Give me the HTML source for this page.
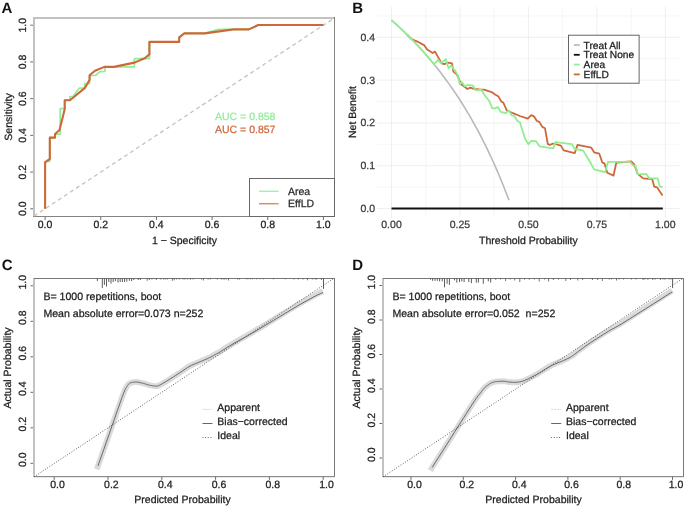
<!DOCTYPE html>
<html><head><meta charset="utf-8"><title>Figure</title>
<style>
html,body{margin:0;padding:0;background:#fff;}
body{width:685px;height:507px;overflow:hidden;}
svg{display:block;font-family:"Liberation Sans", sans-serif;text-rendering:geometricPrecision;will-change:transform;}
</style></head>
<body>
<svg width="685" height="507" viewBox="0 0 685 507">
<rect width="685" height="507" fill="#fff"/>
<text x="1.60" y="13.00" font-size="15" text-anchor="start" fill="#111" font-weight="bold">A</text>
<rect x="33" y="17" width="2" height="200" fill="#c4c2bf"/>
<rect x="33" y="17" width="302" height="2" fill="#c4c2bf"/>
<rect x="334" y="17" width="1" height="200" fill="#858380"/>
<rect x="33" y="216" width="302" height="1" fill="#858380"/>
<line x1="45.10" y1="217.00" x2="45.10" y2="220.00" stroke="#6a6866" stroke-width="1"/>
<line x1="30.30" y1="208.80" x2="33.00" y2="208.80" stroke="#6a6866" stroke-width="1"/>
<text x="45.10" y="227.60" font-size="10.5" text-anchor="middle" fill="#1c1c1c" stroke="#1c1c1c" stroke-width="0.25">0.0</text>
<text x="26.40" y="208.80" font-size="10.5" text-anchor="middle" fill="#1c1c1c" transform="rotate(-90 26.40 208.80)" stroke="#1c1c1c" stroke-width="0.25">0.0</text>
<line x1="100.76" y1="217.00" x2="100.76" y2="220.00" stroke="#6a6866" stroke-width="1"/>
<line x1="30.30" y1="172.08" x2="33.00" y2="172.08" stroke="#6a6866" stroke-width="1"/>
<text x="100.76" y="227.60" font-size="10.5" text-anchor="middle" fill="#1c1c1c" stroke="#1c1c1c" stroke-width="0.25">0.2</text>
<text x="26.40" y="172.08" font-size="10.5" text-anchor="middle" fill="#1c1c1c" transform="rotate(-90 26.40 172.08)" stroke="#1c1c1c" stroke-width="0.25">0.2</text>
<line x1="156.42" y1="217.00" x2="156.42" y2="220.00" stroke="#6a6866" stroke-width="1"/>
<line x1="30.30" y1="135.36" x2="33.00" y2="135.36" stroke="#6a6866" stroke-width="1"/>
<text x="156.42" y="227.60" font-size="10.5" text-anchor="middle" fill="#1c1c1c" stroke="#1c1c1c" stroke-width="0.25">0.4</text>
<text x="26.40" y="135.36" font-size="10.5" text-anchor="middle" fill="#1c1c1c" transform="rotate(-90 26.40 135.36)" stroke="#1c1c1c" stroke-width="0.25">0.4</text>
<line x1="212.08" y1="217.00" x2="212.08" y2="220.00" stroke="#6a6866" stroke-width="1"/>
<line x1="30.30" y1="98.64" x2="33.00" y2="98.64" stroke="#6a6866" stroke-width="1"/>
<text x="212.08" y="227.60" font-size="10.5" text-anchor="middle" fill="#1c1c1c" stroke="#1c1c1c" stroke-width="0.25">0.6</text>
<text x="26.40" y="98.64" font-size="10.5" text-anchor="middle" fill="#1c1c1c" transform="rotate(-90 26.40 98.64)" stroke="#1c1c1c" stroke-width="0.25">0.6</text>
<line x1="267.74" y1="217.00" x2="267.74" y2="220.00" stroke="#6a6866" stroke-width="1"/>
<line x1="30.30" y1="61.92" x2="33.00" y2="61.92" stroke="#6a6866" stroke-width="1"/>
<text x="267.74" y="227.60" font-size="10.5" text-anchor="middle" fill="#1c1c1c" stroke="#1c1c1c" stroke-width="0.25">0.8</text>
<text x="26.40" y="61.92" font-size="10.5" text-anchor="middle" fill="#1c1c1c" transform="rotate(-90 26.40 61.92)" stroke="#1c1c1c" stroke-width="0.25">0.8</text>
<line x1="323.40" y1="217.00" x2="323.40" y2="220.00" stroke="#6a6866" stroke-width="1"/>
<line x1="30.30" y1="25.20" x2="33.00" y2="25.20" stroke="#6a6866" stroke-width="1"/>
<text x="323.40" y="227.60" font-size="10.5" text-anchor="middle" fill="#1c1c1c" stroke="#1c1c1c" stroke-width="0.25">1.0</text>
<text x="26.40" y="25.20" font-size="10.5" text-anchor="middle" fill="#1c1c1c" transform="rotate(-90 26.40 25.20)" stroke="#1c1c1c" stroke-width="0.25">1.0</text>
<text x="184.50" y="243.90" font-size="10.5" text-anchor="middle" fill="#1c1c1c" stroke="#1c1c1c" stroke-width="0.25">1 − Specificity</text>
<text x="11.60" y="117.00" font-size="10.5" text-anchor="middle" fill="#1c1c1c" transform="rotate(-90 11.60 117.00)" stroke="#1c1c1c" stroke-width="0.25">Sensitivity</text>
<line x1="34" y1="216.1" x2="334.5" y2="17.9" stroke="#c2c2c2" stroke-width="1.3" stroke-dasharray="4 3.2"/>
<polyline points="45.10,208.80 45.10,161.50 49.80,161.50 49.80,137.60 55.10,137.60 55.10,134.10 60.20,134.10 60.20,108.60 64.70,108.60 64.70,100.20 69.90,100.20 69.90,96.60 73.00,96.60 79.20,88.20 84.70,88.20 84.70,83.60 89.60,83.60 89.60,75.50 95.50,75.50 100.00,71.60 105.00,71.30 105.00,66.80 134.40,66.80 134.40,58.70 149.40,58.70 149.40,41.90 179.20,41.90 179.20,37.40 184.30,33.40 204.70,33.40 218.50,29.40 248.80,29.40 258.30,25.00 323.40,25.00" fill="none" stroke="#92ec9a" stroke-width="1.7" stroke-linejoin="round" stroke-linecap="butt"/>
<polyline points="45.10,208.80 45.10,162.40 49.80,158.90 49.80,137.60 55.10,137.60 55.10,134.10 59.50,130.00 64.70,109.30 64.70,100.20 69.90,100.20 84.70,88.10 87.10,84.20 89.60,79.70 89.60,75.30 95.00,70.80 104.40,66.90 113.90,66.90 134.40,62.60 144.70,58.20 149.40,54.40 149.40,41.90 179.20,41.90 179.20,37.40 184.30,33.40 204.70,33.40 233.50,29.40 248.80,29.40 258.30,25.00 323.40,25.00" fill="none" stroke="#cd6839" stroke-width="2.1" stroke-linejoin="round" stroke-linecap="butt"/>
<text x="215.00" y="119.50" font-size="10.5" text-anchor="start" fill="#92ec9a" stroke="#92ec9a" stroke-width="0.25">AUC = 0.858</text>
<text x="215.00" y="132.70" font-size="10.5" text-anchor="start" fill="#cd6839" stroke="#cd6839" stroke-width="0.25">AUC = 0.857</text>
<rect x="249.5" y="178.5" width="85" height="38" fill="#fff" stroke="#6a6866" stroke-width="1"/>
<line x1="259.00" y1="191.30" x2="278.60" y2="191.30" stroke="#a6f0ac" stroke-width="1.5"/>
<line x1="259.00" y1="203.70" x2="278.60" y2="203.70" stroke="#dc8e6c" stroke-width="1.5"/>
<text x="288.00" y="195.00" font-size="10.5" text-anchor="start" fill="#2a2a2a" stroke="#2a2a2a" stroke-width="0.25">Area</text>
<text x="288.00" y="207.40" font-size="10.5" text-anchor="start" fill="#2a2a2a" stroke="#2a2a2a" stroke-width="0.25">EffLD</text>
<text x="352.20" y="12.50" font-size="15" text-anchor="start" fill="#111" font-weight="bold">B</text>
<line x1="425.73" y1="6.70" x2="425.73" y2="217.80" stroke="#f4f4f4" stroke-width="0.8"/>
<line x1="494.17" y1="6.70" x2="494.17" y2="217.80" stroke="#f4f4f4" stroke-width="0.8"/>
<line x1="562.62" y1="6.70" x2="562.62" y2="217.80" stroke="#f4f4f4" stroke-width="0.8"/>
<line x1="631.07" y1="6.70" x2="631.07" y2="217.80" stroke="#f4f4f4" stroke-width="0.8"/>
<line x1="377.00" y1="187.10" x2="679.30" y2="187.10" stroke="#f4f4f4" stroke-width="0.8"/>
<line x1="377.00" y1="144.30" x2="679.30" y2="144.30" stroke="#f4f4f4" stroke-width="0.8"/>
<line x1="377.00" y1="101.50" x2="679.30" y2="101.50" stroke="#f4f4f4" stroke-width="0.8"/>
<line x1="377.00" y1="58.70" x2="679.30" y2="58.70" stroke="#f4f4f4" stroke-width="0.8"/>
<line x1="377.00" y1="15.90" x2="679.30" y2="15.90" stroke="#f4f4f4" stroke-width="0.8"/>
<line x1="391.50" y1="6.70" x2="391.50" y2="217.80" stroke="#efefef" stroke-width="1.0"/>
<line x1="459.95" y1="6.70" x2="459.95" y2="217.80" stroke="#efefef" stroke-width="1.0"/>
<line x1="528.40" y1="6.70" x2="528.40" y2="217.80" stroke="#efefef" stroke-width="1.0"/>
<line x1="596.85" y1="6.70" x2="596.85" y2="217.80" stroke="#efefef" stroke-width="1.0"/>
<line x1="665.30" y1="6.70" x2="665.30" y2="217.80" stroke="#efefef" stroke-width="1.0"/>
<line x1="377.00" y1="208.50" x2="679.30" y2="208.50" stroke="#efefef" stroke-width="1.0"/>
<line x1="377.00" y1="165.70" x2="679.30" y2="165.70" stroke="#efefef" stroke-width="1.0"/>
<line x1="377.00" y1="122.90" x2="679.30" y2="122.90" stroke="#efefef" stroke-width="1.0"/>
<line x1="377.00" y1="80.10" x2="679.30" y2="80.10" stroke="#efefef" stroke-width="1.0"/>
<line x1="377.00" y1="37.30" x2="679.30" y2="37.30" stroke="#efefef" stroke-width="1.0"/>
<text x="391.50" y="228.00" font-size="10.5" text-anchor="middle" fill="#3a3a3a" stroke="#3a3a3a" stroke-width="0.25">0.00</text>
<text x="459.95" y="228.00" font-size="10.5" text-anchor="middle" fill="#3a3a3a" stroke="#3a3a3a" stroke-width="0.25">0.25</text>
<text x="528.40" y="228.00" font-size="10.5" text-anchor="middle" fill="#3a3a3a" stroke="#3a3a3a" stroke-width="0.25">0.50</text>
<text x="596.85" y="228.00" font-size="10.5" text-anchor="middle" fill="#3a3a3a" stroke="#3a3a3a" stroke-width="0.25">0.75</text>
<text x="665.30" y="228.00" font-size="10.5" text-anchor="middle" fill="#3a3a3a" stroke="#3a3a3a" stroke-width="0.25">1.00</text>
<text x="375.00" y="212.00" font-size="10.5" text-anchor="end" fill="#3a3a3a" stroke="#3a3a3a" stroke-width="0.25">0.0</text>
<text x="375.00" y="169.20" font-size="10.5" text-anchor="end" fill="#3a3a3a" stroke="#3a3a3a" stroke-width="0.25">0.1</text>
<text x="375.00" y="126.40" font-size="10.5" text-anchor="end" fill="#3a3a3a" stroke="#3a3a3a" stroke-width="0.25">0.2</text>
<text x="375.00" y="83.60" font-size="10.5" text-anchor="end" fill="#3a3a3a" stroke="#3a3a3a" stroke-width="0.25">0.3</text>
<text x="375.00" y="40.80" font-size="10.5" text-anchor="end" fill="#3a3a3a" stroke="#3a3a3a" stroke-width="0.25">0.4</text>
<text x="528.40" y="244.30" font-size="10.5" text-anchor="middle" fill="#1c1c1c" stroke="#1c1c1c" stroke-width="0.25">Threshold Probability</text>
<text x="356.40" y="112.00" font-size="10.5" text-anchor="middle" fill="#1c1c1c" transform="rotate(-90 356.40 112.00)" stroke="#1c1c1c" stroke-width="0.25">Net Benefit</text>
<polyline points="391.50,20.18 393.46,21.91 395.42,23.66 397.37,25.43 399.33,27.24 401.29,29.07 403.25,30.92 405.20,32.81 407.16,34.72 409.12,36.66 411.08,38.64 413.03,40.64 414.99,42.67 416.95,44.74 418.91,46.84 420.87,48.97 422.82,51.14 424.78,53.34 426.74,55.58 428.70,57.86 430.65,60.17 432.61,62.53 434.57,64.92 436.53,67.35 438.48,69.83 440.44,72.35 442.40,74.91 444.36,77.52 446.31,80.17 448.27,82.88 450.23,85.63 452.19,88.43 454.15,91.29 456.10,94.20 458.06,97.16 460.02,100.18 461.98,103.26 463.93,106.40 465.89,109.60 467.85,112.86 469.81,116.19 471.76,119.58 473.72,123.05 475.68,126.58 477.64,130.19 479.60,133.88 481.55,137.64 483.51,141.49 485.47,145.42 487.43,149.44 489.38,153.54 491.34,157.74 493.30,162.03 495.26,166.43 497.21,170.92 499.17,175.52 501.13,180.23 503.09,185.06 505.04,190.00 507.00,195.06 508.96,200.25" fill="none" stroke="#b9b9b9" stroke-width="1.6" stroke-linejoin="round" stroke-linecap="butt"/>
<line x1="391.50" y1="208.50" x2="662.80" y2="208.50" stroke="#111" stroke-width="2.0"/>
<polyline points="406.81,34.38 407.54,35.10 408.27,35.82 409.00,36.55 411.30,39.00 416.80,41.30 424.40,45.40 427.10,49.50 432.70,53.00 435.00,51.60 441.60,63.40 444.40,64.10 447.90,62.70 452.00,63.40 453.40,71.60 456.80,74.40 458.50,78.00 461.20,84.20 467.40,89.00 470.20,87.60 474.30,89.00 481.30,89.70 484.00,89.70 491.60,92.10 495.10,94.50 498.50,96.60 501.30,101.50 503.40,102.80 506.80,110.40 513.00,113.20 519.90,116.00 527.80,118.70 531.20,115.20 534.00,116.30 536.70,120.70 539.50,122.10 542.30,126.90 545.00,128.30 547.80,144.20 549.90,144.90 553.30,143.50 560.90,145.60 563.70,150.40 574.70,153.20 577.50,144.90 591.30,147.70 594.10,152.30 599.30,153.70 602.40,162.70 604.50,163.40 607.30,172.80 613.50,175.60 616.30,162.50 631.50,161.50 634.20,164.30 637.70,173.90 643.20,178.40 652.20,179.00 654.20,186.60 657.00,187.30 662.50,195.60" fill="none" stroke="#cd6839" stroke-width="1.8" stroke-linejoin="round" stroke-linecap="butt"/>
<polyline points="391.50,20.18 393.27,21.74 395.04,23.32 396.81,24.92 398.58,26.55 400.35,28.19 402.12,29.86 403.90,31.55 405.67,33.26 407.44,34.99 409.21,36.75 410.98,38.54 412.75,40.35 414.52,42.18 416.29,44.04 418.06,45.93 419.83,47.85 421.60,49.79 423.38,51.76 425.15,53.76 426.92,55.79 428.69,57.85 430.46,59.94 432.23,62.06 434.00,64.22 438.20,59.90 441.00,63.40 445.80,59.20 448.60,68.20 451.30,65.40 454.10,69.60 455.00,70.40 457.80,75.20 459.80,84.20 461.90,82.10 464.70,86.30 468.10,84.90 473.00,85.60 475.70,90.40 481.30,89.70 484.70,95.20 489.50,101.50 492.30,108.40 495.10,108.40 497.80,107.00 500.60,111.80 505.40,113.20 508.90,110.40 511.60,115.30 514.40,116.00 517.20,120.80 519.90,122.20 522.00,129.10 525.00,138.70 528.50,144.20 531.20,140.80 536.10,141.20 539.50,146.30 553.30,148.40 555.40,142.10 572.00,144.20 574.70,149.00 583.00,150.40 590.00,161.80 594.10,169.40 605.20,172.10 608.00,161.80 630.10,161.80 632.80,165.20 635.60,166.20 637.70,174.20 646.60,174.20 649.40,178.40 657.70,178.40 659.80,186.60 662.50,187.10" fill="none" stroke="#90ee90" stroke-width="1.8" stroke-linejoin="round" stroke-linecap="butt"/>
<rect x="568.5" y="35.2" width="70.6" height="48" fill="#fff" stroke="#555" stroke-width="0.9"/>
<line x1="573.80" y1="45.00" x2="579.70" y2="45.00" stroke="#bdbdbd" stroke-width="1.8"/>
<text x="583.60" y="48.50" font-size="10.2" text-anchor="start" fill="#1a1a1a" stroke="#1a1a1a" stroke-width="0.25">Treat All</text>
<line x1="573.80" y1="54.80" x2="579.70" y2="54.80" stroke="#111" stroke-width="1.8"/>
<text x="583.60" y="58.30" font-size="10.2" text-anchor="start" fill="#1a1a1a" stroke="#1a1a1a" stroke-width="0.25">Treat None</text>
<line x1="573.80" y1="64.60" x2="579.70" y2="64.60" stroke="#90ee90" stroke-width="1.8"/>
<text x="583.60" y="68.10" font-size="10.2" text-anchor="start" fill="#1a1a1a" stroke="#1a1a1a" stroke-width="0.25">Area</text>
<line x1="573.80" y1="74.40" x2="579.70" y2="74.40" stroke="#cd6839" stroke-width="1.8"/>
<text x="583.60" y="77.90" font-size="10.2" text-anchor="start" fill="#1a1a1a" stroke="#1a1a1a" stroke-width="0.25">EffLD</text>
<text x="1.80" y="270.10" font-size="15" text-anchor="start" fill="#111" font-weight="bold">C</text>
<rect x="33.0" y="278.0" width="2" height="199.0" fill="#c4c2bf"/>
<rect x="34.0" y="278.0" width="301.0" height="1" fill="#7a7876"/>
<rect x="334.0" y="278.0" width="1" height="199.0" fill="#7a7876"/>
<rect x="34.0" y="476.0" width="301.0" height="1.2" fill="#8d8b88"/>
<line x1="54.20" y1="477.00" x2="54.20" y2="479.80" stroke="#6a6866" stroke-width="1"/>
<line x1="30.50" y1="463.30" x2="33.00" y2="463.30" stroke="#6a6866" stroke-width="1"/>
<text x="57.60" y="488.20" font-size="10.5" text-anchor="middle" fill="#1c1c1c" stroke="#1c1c1c" stroke-width="0.25">0.0</text>
<text x="26.20" y="459.80" font-size="10.5" text-anchor="middle" fill="#1c1c1c" transform="rotate(-90 26.20 459.80)" stroke="#1c1c1c" stroke-width="0.25">0.0</text>
<line x1="108.00" y1="477.00" x2="108.00" y2="479.80" stroke="#6a6866" stroke-width="1"/>
<line x1="30.50" y1="427.80" x2="33.00" y2="427.80" stroke="#6a6866" stroke-width="1"/>
<text x="111.40" y="488.20" font-size="10.5" text-anchor="middle" fill="#1c1c1c" stroke="#1c1c1c" stroke-width="0.25">0.2</text>
<text x="26.20" y="424.30" font-size="10.5" text-anchor="middle" fill="#1c1c1c" transform="rotate(-90 26.20 424.30)" stroke="#1c1c1c" stroke-width="0.25">0.2</text>
<line x1="161.80" y1="477.00" x2="161.80" y2="479.80" stroke="#6a6866" stroke-width="1"/>
<line x1="30.50" y1="392.30" x2="33.00" y2="392.30" stroke="#6a6866" stroke-width="1"/>
<text x="165.20" y="488.20" font-size="10.5" text-anchor="middle" fill="#1c1c1c" stroke="#1c1c1c" stroke-width="0.25">0.4</text>
<text x="26.20" y="388.80" font-size="10.5" text-anchor="middle" fill="#1c1c1c" transform="rotate(-90 26.20 388.80)" stroke="#1c1c1c" stroke-width="0.25">0.4</text>
<line x1="215.60" y1="477.00" x2="215.60" y2="479.80" stroke="#6a6866" stroke-width="1"/>
<line x1="30.50" y1="356.80" x2="33.00" y2="356.80" stroke="#6a6866" stroke-width="1"/>
<text x="219.00" y="488.20" font-size="10.5" text-anchor="middle" fill="#1c1c1c" stroke="#1c1c1c" stroke-width="0.25">0.6</text>
<text x="26.20" y="353.30" font-size="10.5" text-anchor="middle" fill="#1c1c1c" transform="rotate(-90 26.20 353.30)" stroke="#1c1c1c" stroke-width="0.25">0.6</text>
<line x1="269.40" y1="477.00" x2="269.40" y2="479.80" stroke="#6a6866" stroke-width="1"/>
<line x1="30.50" y1="321.30" x2="33.00" y2="321.30" stroke="#6a6866" stroke-width="1"/>
<text x="272.80" y="488.20" font-size="10.5" text-anchor="middle" fill="#1c1c1c" stroke="#1c1c1c" stroke-width="0.25">0.8</text>
<text x="26.20" y="317.80" font-size="10.5" text-anchor="middle" fill="#1c1c1c" transform="rotate(-90 26.20 317.80)" stroke="#1c1c1c" stroke-width="0.25">0.8</text>
<line x1="323.20" y1="477.00" x2="323.20" y2="479.80" stroke="#6a6866" stroke-width="1"/>
<line x1="30.50" y1="285.80" x2="33.00" y2="285.80" stroke="#6a6866" stroke-width="1"/>
<text x="326.60" y="488.20" font-size="10.5" text-anchor="middle" fill="#1c1c1c" stroke="#1c1c1c" stroke-width="0.25">1.0</text>
<text x="26.20" y="282.30" font-size="10.5" text-anchor="middle" fill="#1c1c1c" transform="rotate(-90 26.20 282.30)" stroke="#1c1c1c" stroke-width="0.25">1.0</text>
<text x="182.50" y="503.30" font-size="10.5" text-anchor="middle" fill="#1c1c1c" stroke="#1c1c1c" stroke-width="0.25">Predicted Probability</text>
<text x="11.40" y="368.00" font-size="10.5" text-anchor="middle" fill="#1c1c1c" transform="rotate(-90 11.40 368.00)" stroke="#1c1c1c" stroke-width="0.25">Actual Probability</text>
<line x1="97.40" y1="278.50" x2="97.40" y2="281.00" stroke="#4a4a4a" stroke-width="0.9" stroke-opacity="1.0"/>
<line x1="102.30" y1="278.50" x2="102.30" y2="288.00" stroke="#4a4a4a" stroke-width="0.9" stroke-opacity="1.0"/>
<line x1="104.40" y1="278.50" x2="104.40" y2="284.90" stroke="#4a4a4a" stroke-width="0.9" stroke-opacity="1.0"/>
<line x1="106.50" y1="278.50" x2="106.50" y2="286.60" stroke="#4a4a4a" stroke-width="0.9" stroke-opacity="1.0"/>
<line x1="108.80" y1="278.50" x2="108.80" y2="282.00" stroke="#4a4a4a" stroke-width="0.9" stroke-opacity="1.0"/>
<line x1="111.00" y1="278.50" x2="111.00" y2="283.60" stroke="#4a4a4a" stroke-width="0.9" stroke-opacity="1.0"/>
<line x1="113.20" y1="278.50" x2="113.20" y2="282.00" stroke="#4a4a4a" stroke-width="0.9" stroke-opacity="1.0"/>
<line x1="115.40" y1="278.50" x2="115.40" y2="281.10" stroke="#4a4a4a" stroke-width="0.9" stroke-opacity="1.0"/>
<line x1="118.00" y1="278.50" x2="118.00" y2="282.50" stroke="#4a4a4a" stroke-width="0.9" stroke-opacity="1.0"/>
<line x1="120.20" y1="278.50" x2="120.20" y2="282.00" stroke="#4a4a4a" stroke-width="0.9" stroke-opacity="1.0"/>
<line x1="122.40" y1="278.50" x2="122.40" y2="282.00" stroke="#4a4a4a" stroke-width="0.9" stroke-opacity="1.0"/>
<line x1="124.60" y1="278.50" x2="124.60" y2="282.00" stroke="#4a4a4a" stroke-width="0.9" stroke-opacity="1.0"/>
<line x1="126.80" y1="278.50" x2="126.80" y2="281.50" stroke="#4a4a4a" stroke-width="0.9" stroke-opacity="1.0"/>
<line x1="129.40" y1="278.50" x2="129.40" y2="280.80" stroke="#4a4a4a" stroke-width="0.9" stroke-opacity="1.0"/>
<line x1="131.60" y1="278.50" x2="131.60" y2="281.10" stroke="#4a4a4a" stroke-width="0.9" stroke-opacity="1.0"/>
<line x1="133.80" y1="278.50" x2="133.80" y2="280.00" stroke="#4a4a4a" stroke-width="0.9" stroke-opacity="1.0"/>
<line x1="138.20" y1="278.50" x2="138.20" y2="280.00" stroke="#4a4a4a" stroke-width="0.9" stroke-opacity="1.0"/>
<line x1="140.40" y1="278.50" x2="140.40" y2="280.00" stroke="#4a4a4a" stroke-width="0.9" stroke-opacity="1.0"/>
<line x1="323.50" y1="278.50" x2="323.50" y2="288.90" stroke="#4a4a4a" stroke-width="0.9" stroke-opacity="1.0"/>
<line x1="147.20" y1="278.50" x2="147.20" y2="280.80" stroke="#4a4a4a" stroke-width="0.9" stroke-opacity="0.85"/>
<line x1="149.40" y1="278.50" x2="149.40" y2="280.00" stroke="#4a4a4a" stroke-width="0.9" stroke-opacity="0.85"/>
<line x1="151.90" y1="278.50" x2="151.90" y2="279.50" stroke="#4a4a4a" stroke-width="0.9" stroke-opacity="0.85"/>
<line x1="156.30" y1="278.50" x2="156.30" y2="280.00" stroke="#4a4a4a" stroke-width="0.9" stroke-opacity="0.85"/>
<line x1="160.70" y1="278.50" x2="160.70" y2="279.50" stroke="#4a4a4a" stroke-width="0.9" stroke-opacity="0.85"/>
<line x1="163.60" y1="278.50" x2="163.60" y2="279.50" stroke="#4a4a4a" stroke-width="0.9" stroke-opacity="0.85"/>
<line x1="165.40" y1="278.50" x2="165.40" y2="279.50" stroke="#4a4a4a" stroke-width="0.9" stroke-opacity="0.85"/>
<line x1="167.30" y1="278.50" x2="167.30" y2="279.50" stroke="#4a4a4a" stroke-width="0.9" stroke-opacity="0.85"/>
<line x1="172.40" y1="278.50" x2="172.40" y2="280.80" stroke="#4a4a4a" stroke-width="0.9" stroke-opacity="0.85"/>
<line x1="174.20" y1="278.50" x2="174.20" y2="280.30" stroke="#4a4a4a" stroke-width="0.9" stroke-opacity="0.85"/>
<line x1="176.40" y1="278.50" x2="176.40" y2="279.50" stroke="#4a4a4a" stroke-width="0.9" stroke-opacity="0.85"/>
<line x1="179.30" y1="278.50" x2="179.30" y2="279.50" stroke="#4a4a4a" stroke-width="0.9" stroke-opacity="0.85"/>
<line x1="183.00" y1="278.50" x2="183.00" y2="279.50" stroke="#4a4a4a" stroke-width="0.9" stroke-opacity="0.85"/>
<line x1="184.80" y1="278.50" x2="184.80" y2="279.50" stroke="#4a4a4a" stroke-width="0.9" stroke-opacity="0.85"/>
<line x1="187.30" y1="278.50" x2="187.30" y2="279.50" stroke="#4a4a4a" stroke-width="0.9" stroke-opacity="0.85"/>
<line x1="190.30" y1="278.50" x2="190.30" y2="279.80" stroke="#4a4a4a" stroke-width="0.9" stroke-opacity="0.85"/>
<line x1="193.20" y1="278.50" x2="193.20" y2="279.50" stroke="#4a4a4a" stroke-width="0.9" stroke-opacity="0.85"/>
<line x1="201.60" y1="278.50" x2="201.60" y2="279.50" stroke="#4a4a4a" stroke-width="0.9" stroke-opacity="0.85"/>
<line x1="203.40" y1="278.50" x2="203.40" y2="280.50" stroke="#4a4a4a" stroke-width="0.9" stroke-opacity="0.85"/>
<line x1="208.10" y1="278.50" x2="208.10" y2="279.50" stroke="#4a4a4a" stroke-width="0.9" stroke-opacity="0.85"/>
<line x1="210.30" y1="278.50" x2="210.30" y2="279.50" stroke="#4a4a4a" stroke-width="0.9" stroke-opacity="0.85"/>
<line x1="217.30" y1="278.50" x2="217.30" y2="279.50" stroke="#4a4a4a" stroke-width="0.9" stroke-opacity="0.85"/>
<line x1="221.30" y1="278.50" x2="221.30" y2="279.50" stroke="#4a4a4a" stroke-width="0.9" stroke-opacity="0.85"/>
<line x1="223.10" y1="278.50" x2="223.10" y2="279.50" stroke="#4a4a4a" stroke-width="0.9" stroke-opacity="0.85"/>
<line x1="224.60" y1="278.50" x2="224.60" y2="279.50" stroke="#4a4a4a" stroke-width="0.9" stroke-opacity="0.85"/>
<line x1="226.40" y1="278.50" x2="226.40" y2="279.50" stroke="#4a4a4a" stroke-width="0.9" stroke-opacity="0.85"/>
<line x1="228.60" y1="278.50" x2="228.60" y2="280.50" stroke="#4a4a4a" stroke-width="0.9" stroke-opacity="0.85"/>
<line x1="237.70" y1="278.50" x2="237.70" y2="279.50" stroke="#4a4a4a" stroke-width="0.9" stroke-opacity="0.85"/>
<line x1="239.50" y1="278.50" x2="239.50" y2="279.50" stroke="#4a4a4a" stroke-width="0.9" stroke-opacity="0.85"/>
<line x1="246.50" y1="278.50" x2="246.50" y2="279.30" stroke="#4a4a4a" stroke-width="0.9" stroke-opacity="0.85"/>
<line x1="248.00" y1="278.50" x2="248.00" y2="279.30" stroke="#4a4a4a" stroke-width="0.9" stroke-opacity="0.85"/>
<line x1="250.50" y1="278.50" x2="250.50" y2="279.30" stroke="#4a4a4a" stroke-width="0.9" stroke-opacity="0.85"/>
<line x1="252.70" y1="278.50" x2="252.70" y2="279.30" stroke="#4a4a4a" stroke-width="0.9" stroke-opacity="0.85"/>
<line x1="256.50" y1="278.50" x2="256.50" y2="279.30" stroke="#4a4a4a" stroke-width="0.9" stroke-opacity="0.85"/>
<line x1="260.00" y1="278.50" x2="260.00" y2="279.30" stroke="#4a4a4a" stroke-width="0.9" stroke-opacity="0.85"/>
<line x1="263.20" y1="278.50" x2="263.20" y2="279.30" stroke="#4a4a4a" stroke-width="0.9" stroke-opacity="0.85"/>
<line x1="273.50" y1="278.50" x2="273.50" y2="279.30" stroke="#4a4a4a" stroke-width="0.9" stroke-opacity="0.85"/>
<line x1="285.40" y1="278.50" x2="285.40" y2="279.30" stroke="#4a4a4a" stroke-width="0.9" stroke-opacity="0.85"/>
<line x1="294.00" y1="278.50" x2="294.00" y2="279.50" stroke="#4a4a4a" stroke-width="0.9" stroke-opacity="0.85"/>
<line x1="298.40" y1="278.50" x2="298.40" y2="279.50" stroke="#4a4a4a" stroke-width="0.9" stroke-opacity="0.85"/>
<line x1="303.10" y1="278.50" x2="303.10" y2="279.50" stroke="#4a4a4a" stroke-width="0.9" stroke-opacity="0.85"/>
<line x1="307.50" y1="278.50" x2="307.50" y2="280.30" stroke="#4a4a4a" stroke-width="0.9" stroke-opacity="0.85"/>
<line x1="312.30" y1="278.50" x2="312.30" y2="279.50" stroke="#4a4a4a" stroke-width="0.9" stroke-opacity="0.85"/>
<line x1="315.20" y1="278.50" x2="315.20" y2="279.50" stroke="#4a4a4a" stroke-width="0.9" stroke-opacity="0.85"/>
<line x1="316.60" y1="278.50" x2="316.60" y2="279.50" stroke="#4a4a4a" stroke-width="0.9" stroke-opacity="0.85"/>
<line x1="321.40" y1="278.50" x2="321.40" y2="280.00" stroke="#4a4a4a" stroke-width="0.9" stroke-opacity="0.85"/>
<polyline points="96.80,469.19 98.00,465.80 98.76,463.65 99.81,460.69 101.06,457.17 102.40,453.37 103.75,449.56 105.00,446.00 106.17,442.66 107.34,439.32 108.51,435.97 109.69,432.59 110.89,429.17 112.10,425.70 113.37,422.06 114.70,418.25 116.04,414.39 117.36,410.64 118.59,407.13 119.70,404.00 120.68,401.24 121.57,398.74 122.39,396.49 123.14,394.46 123.84,392.63 124.50,391.00 125.11,389.61 125.64,388.50 126.13,387.59 126.59,386.83 127.04,386.16 127.50,385.50 127.96,384.89 128.40,384.38 128.83,383.96 129.27,383.60 129.72,383.28 130.20,383.00 130.71,382.76 131.25,382.59 131.80,382.46 132.36,382.36 132.93,382.28 133.50,382.20 134.05,382.12 134.57,382.04 135.10,381.98 135.66,381.94 136.29,381.95 137.00,382.00 137.84,382.12 138.80,382.30 139.81,382.51 140.84,382.75 141.82,382.98 142.70,383.20 143.48,383.40 144.20,383.61 144.87,383.81 145.52,384.01 146.16,384.21 146.80,384.40 147.41,384.58 147.98,384.76 148.53,384.93 149.11,385.10 149.75,385.25 150.50,385.40 151.39,385.56 152.39,385.74 153.46,385.91 154.53,386.05 155.57,386.12 156.50,386.10 157.25,386.02 157.85,385.92 158.40,385.75 159.02,385.48 159.81,385.08 160.90,384.50 162.33,383.71 164.02,382.72 165.89,381.59 167.86,380.39 169.82,379.17 171.70,377.99 173.55,376.80 175.45,375.55 177.35,374.29 179.21,373.05 180.97,371.88 182.60,370.80 184.05,369.83 185.34,368.94 186.54,368.11 187.71,367.32 188.91,366.57 190.20,365.84 191.55,365.16 192.91,364.54 194.29,363.95 195.73,363.36 197.22,362.75 198.80,362.07 200.55,361.32 202.47,360.49 204.46,359.64 206.40,358.79 208.18,358.00 209.70,357.29 210.91,356.68 211.89,356.13 212.72,355.63 213.46,355.17 214.20,354.71 215.00,354.25 215.77,353.84 216.44,353.52 217.09,353.21 217.84,352.83 218.78,352.32 220.00,351.61 221.52,350.66 223.24,349.55 225.16,348.29 227.24,346.94 229.47,345.54 231.80,344.12 234.31,342.65 237.03,341.11 239.89,339.51 242.81,337.87 245.74,336.22 248.60,334.58 251.40,332.94 254.20,331.28 257.01,329.61 259.81,327.93 262.61,326.24 265.40,324.55 268.19,322.86 270.97,321.16 273.75,319.45 276.53,317.74 279.31,316.03 282.10,314.32 284.89,312.61 287.69,310.88 290.49,309.15 293.30,307.43 296.10,305.74 298.90,304.09 301.81,302.41 304.85,300.69 307.89,299.00 310.80,297.40 313.45,295.96 315.70,294.76 317.55,293.80 319.11,293.04 320.40,292.45 321.46,291.98 322.32,291.61 323.00,291.30" fill="none" stroke="#dadada" stroke-width="5.8" stroke-linejoin="round" stroke-linecap="butt"/>
<line x1="34.00" y1="476.90" x2="334.40" y2="278.00" stroke="#3a3a3a" stroke-width="0.9" stroke-dasharray="0.9 1.75"/>
<polyline points="98.00,465.80 98.76,463.65 99.81,460.69 101.06,457.17 102.40,453.37 103.75,449.56 105.00,446.00 106.17,442.66 107.34,439.32 108.51,435.97 109.69,432.59 110.89,429.17 112.10,425.70 113.37,422.06 114.70,418.25 116.04,414.39 117.36,410.64 118.59,407.13 119.70,404.00 120.68,401.24 121.57,398.74 122.39,396.49 123.14,394.46 123.84,392.63 124.50,391.00 125.11,389.61 125.64,388.50 126.13,387.59 126.59,386.83 127.04,386.16 127.50,385.50 127.96,384.89 128.40,384.38 128.83,383.96 129.27,383.60 129.72,383.28 130.20,383.00 130.71,382.76 131.25,382.59 131.80,382.46 132.36,382.36 132.93,382.28 133.50,382.20 134.05,382.12 134.57,382.04 135.10,381.98 135.66,381.94 136.29,381.95 137.00,382.00 137.84,382.12 138.80,382.30 139.81,382.51 140.84,382.75 141.82,382.98 142.70,383.20 143.48,383.40 144.20,383.61 144.87,383.81 145.52,384.01 146.16,384.21 146.80,384.40 147.41,384.58 147.98,384.76 148.53,384.93 149.11,385.10 149.75,385.25 150.50,385.40 151.39,385.56 152.39,385.74 153.46,385.91 154.53,386.05 155.57,386.12 156.50,386.10 157.25,386.02 157.85,385.92 158.40,385.75 159.02,385.48 159.81,385.08 160.90,384.50 162.33,383.71 164.02,382.72 165.89,381.59 167.86,380.39 169.82,379.17 171.70,378.00 173.55,376.83 175.45,375.60 177.35,374.35 179.21,373.13 180.97,371.96 182.60,370.90 184.05,369.94 185.34,369.06 186.54,368.24 187.71,367.46 188.91,366.72 190.20,366.00 191.55,365.33 192.91,364.71 194.29,364.14 195.73,363.56 197.22,362.96 198.80,362.30 200.55,361.55 202.47,360.74 204.46,359.91 206.40,359.08 208.18,358.30 209.70,357.60 210.91,357.00 211.89,356.46 212.72,355.97 213.46,355.51 214.20,355.06 215.00,354.60 215.77,354.20 216.44,353.88 217.09,353.58 217.84,353.21 218.78,352.71 220.00,352.00 221.52,351.07 223.24,349.96 225.16,348.73 227.24,347.39 229.47,346.00 231.80,344.60 234.31,343.15 237.03,341.63 239.89,340.06 242.81,338.44 245.74,336.82 248.60,335.20 251.40,333.58 254.20,331.94 257.01,330.29 259.81,328.63 262.61,326.97 265.40,325.30 268.19,323.63 270.97,321.95 273.75,320.26 276.53,318.57 279.31,316.89 282.10,315.20 284.89,313.51 287.69,311.80 290.49,310.09 293.30,308.40 296.10,306.73 298.90,305.10 301.81,303.45 304.85,301.75 307.89,300.08 310.80,298.50 313.45,297.09 315.70,295.90 317.55,294.96 319.11,294.21 320.40,293.62 321.46,293.17 322.32,292.80 323.00,292.50" fill="none" stroke="#4a4a4a" stroke-width="0.8" stroke-linejoin="round" stroke-linecap="butt"/>
<text x="43.40" y="299.80" font-size="10.58" text-anchor="start" fill="#1c1c1c" stroke="#1c1c1c" stroke-width="0.25" xml:space="preserve">B= 1000 repetitions, boot</text>
<text x="43.40" y="316.90" font-size="10.58" text-anchor="start" fill="#1c1c1c" stroke="#1c1c1c" stroke-width="0.25" xml:space="preserve">Mean absolute error=0.073 n=252</text>
<line x1="202.50" y1="409.40" x2="212.50" y2="409.40" stroke="#d0d0d0" stroke-width="0.9" stroke-dasharray="2 1"/>
<line x1="202.50" y1="423.50" x2="212.50" y2="423.50" stroke="#555" stroke-width="0.9"/>
<line x1="202.50" y1="437.50" x2="212.50" y2="437.50" stroke="#4a4a4a" stroke-width="0.9" stroke-dasharray="0.9 1.75"/>
<text x="217.30" y="411.40" font-size="10.5" text-anchor="start" fill="#1c1c1c" stroke="#1c1c1c" stroke-width="0.25">Apparent</text>
<text x="217.30" y="425.20" font-size="10.5" text-anchor="start" fill="#1c1c1c" stroke="#1c1c1c" stroke-width="0.25">Bias−corrected</text>
<text x="217.30" y="439.20" font-size="10.5" text-anchor="start" fill="#1c1c1c" stroke="#1c1c1c" stroke-width="0.25">Ideal</text>
<text x="352.30" y="270.10" font-size="15" text-anchor="start" fill="#111" font-weight="bold">D</text>
<rect x="382.0" y="278.0" width="2" height="199.0" fill="#c4c2bf"/>
<rect x="383.0" y="278.0" width="301.0" height="1" fill="#7a7876"/>
<rect x="683.0" y="278.0" width="1" height="199.0" fill="#7a7876"/>
<rect x="383.0" y="476.0" width="301.0" height="1.2" fill="#8d8b88"/>
<line x1="411.00" y1="477.00" x2="411.00" y2="479.80" stroke="#6a6866" stroke-width="1"/>
<line x1="379.50" y1="458.00" x2="382.00" y2="458.00" stroke="#6a6866" stroke-width="1"/>
<text x="414.60" y="488.20" font-size="10.5" text-anchor="middle" fill="#1c1c1c" stroke="#1c1c1c" stroke-width="0.25">0.0</text>
<text x="375.20" y="454.60" font-size="10.5" text-anchor="middle" fill="#1c1c1c" transform="rotate(-90 375.20 454.60)" stroke="#1c1c1c" stroke-width="0.25">0.0</text>
<line x1="463.30" y1="477.00" x2="463.30" y2="479.80" stroke="#6a6866" stroke-width="1"/>
<line x1="379.50" y1="423.50" x2="382.00" y2="423.50" stroke="#6a6866" stroke-width="1"/>
<text x="466.90" y="488.20" font-size="10.5" text-anchor="middle" fill="#1c1c1c" stroke="#1c1c1c" stroke-width="0.25">0.2</text>
<text x="375.20" y="420.10" font-size="10.5" text-anchor="middle" fill="#1c1c1c" transform="rotate(-90 375.20 420.10)" stroke="#1c1c1c" stroke-width="0.25">0.2</text>
<line x1="515.60" y1="477.00" x2="515.60" y2="479.80" stroke="#6a6866" stroke-width="1"/>
<line x1="379.50" y1="389.00" x2="382.00" y2="389.00" stroke="#6a6866" stroke-width="1"/>
<text x="519.20" y="488.20" font-size="10.5" text-anchor="middle" fill="#1c1c1c" stroke="#1c1c1c" stroke-width="0.25">0.4</text>
<text x="375.20" y="385.60" font-size="10.5" text-anchor="middle" fill="#1c1c1c" transform="rotate(-90 375.20 385.60)" stroke="#1c1c1c" stroke-width="0.25">0.4</text>
<line x1="567.90" y1="477.00" x2="567.90" y2="479.80" stroke="#6a6866" stroke-width="1"/>
<line x1="379.50" y1="354.50" x2="382.00" y2="354.50" stroke="#6a6866" stroke-width="1"/>
<text x="571.50" y="488.20" font-size="10.5" text-anchor="middle" fill="#1c1c1c" stroke="#1c1c1c" stroke-width="0.25">0.6</text>
<text x="375.20" y="351.10" font-size="10.5" text-anchor="middle" fill="#1c1c1c" transform="rotate(-90 375.20 351.10)" stroke="#1c1c1c" stroke-width="0.25">0.6</text>
<line x1="620.20" y1="477.00" x2="620.20" y2="479.80" stroke="#6a6866" stroke-width="1"/>
<line x1="379.50" y1="320.00" x2="382.00" y2="320.00" stroke="#6a6866" stroke-width="1"/>
<text x="623.80" y="488.20" font-size="10.5" text-anchor="middle" fill="#1c1c1c" stroke="#1c1c1c" stroke-width="0.25">0.8</text>
<text x="375.20" y="316.60" font-size="10.5" text-anchor="middle" fill="#1c1c1c" transform="rotate(-90 375.20 316.60)" stroke="#1c1c1c" stroke-width="0.25">0.8</text>
<line x1="672.50" y1="477.00" x2="672.50" y2="479.80" stroke="#6a6866" stroke-width="1"/>
<line x1="379.50" y1="285.50" x2="382.00" y2="285.50" stroke="#6a6866" stroke-width="1"/>
<text x="676.10" y="488.20" font-size="10.5" text-anchor="middle" fill="#1c1c1c" stroke="#1c1c1c" stroke-width="0.25">1.0</text>
<text x="375.20" y="282.10" font-size="10.5" text-anchor="middle" fill="#1c1c1c" transform="rotate(-90 375.20 282.10)" stroke="#1c1c1c" stroke-width="0.25">1.0</text>
<text x="533.50" y="503.30" font-size="10.5" text-anchor="middle" fill="#1c1c1c" stroke="#1c1c1c" stroke-width="0.25">Predicted Probability</text>
<text x="360.40" y="368.00" font-size="10.5" text-anchor="middle" fill="#1c1c1c" transform="rotate(-90 360.40 368.00)" stroke="#1c1c1c" stroke-width="0.25">Actual Probability</text>
<line x1="430.50" y1="278.50" x2="430.50" y2="279.70" stroke="#4a4a4a" stroke-width="0.9" stroke-opacity="1.0"/>
<line x1="432.60" y1="278.50" x2="432.60" y2="280.80" stroke="#4a4a4a" stroke-width="0.9" stroke-opacity="1.0"/>
<line x1="435.00" y1="278.50" x2="435.00" y2="280.80" stroke="#4a4a4a" stroke-width="0.9" stroke-opacity="1.0"/>
<line x1="437.30" y1="278.50" x2="437.30" y2="280.80" stroke="#4a4a4a" stroke-width="0.9" stroke-opacity="1.0"/>
<line x1="439.60" y1="278.50" x2="439.60" y2="281.40" stroke="#4a4a4a" stroke-width="0.9" stroke-opacity="1.0"/>
<line x1="442.20" y1="278.50" x2="442.20" y2="281.40" stroke="#4a4a4a" stroke-width="0.9" stroke-opacity="1.0"/>
<line x1="444.50" y1="278.50" x2="444.50" y2="287.30" stroke="#4a4a4a" stroke-width="0.9" stroke-opacity="1.0"/>
<line x1="447.10" y1="278.50" x2="447.10" y2="283.80" stroke="#4a4a4a" stroke-width="0.9" stroke-opacity="1.0"/>
<line x1="449.40" y1="278.50" x2="449.40" y2="284.90" stroke="#4a4a4a" stroke-width="0.9" stroke-opacity="1.0"/>
<line x1="454.50" y1="278.50" x2="454.50" y2="280.30" stroke="#4a4a4a" stroke-width="0.9" stroke-opacity="1.0"/>
<line x1="456.80" y1="278.50" x2="456.80" y2="282.60" stroke="#4a4a4a" stroke-width="0.9" stroke-opacity="1.0"/>
<line x1="459.50" y1="278.50" x2="459.50" y2="282.00" stroke="#4a4a4a" stroke-width="0.9" stroke-opacity="1.0"/>
<line x1="461.80" y1="278.50" x2="461.80" y2="281.40" stroke="#4a4a4a" stroke-width="0.9" stroke-opacity="1.0"/>
<line x1="464.10" y1="278.50" x2="464.10" y2="282.00" stroke="#4a4a4a" stroke-width="0.9" stroke-opacity="1.0"/>
<line x1="468.80" y1="278.50" x2="468.80" y2="282.00" stroke="#4a4a4a" stroke-width="0.9" stroke-opacity="1.0"/>
<line x1="471.40" y1="278.50" x2="471.40" y2="283.20" stroke="#4a4a4a" stroke-width="0.9" stroke-opacity="1.0"/>
<line x1="476.30" y1="278.50" x2="476.30" y2="282.60" stroke="#4a4a4a" stroke-width="0.9" stroke-opacity="1.0"/>
<line x1="478.40" y1="278.50" x2="478.40" y2="282.60" stroke="#4a4a4a" stroke-width="0.9" stroke-opacity="1.0"/>
<line x1="483.30" y1="278.50" x2="483.30" y2="283.80" stroke="#4a4a4a" stroke-width="0.9" stroke-opacity="1.0"/>
<line x1="488.30" y1="278.50" x2="488.30" y2="281.40" stroke="#4a4a4a" stroke-width="0.9" stroke-opacity="1.0"/>
<line x1="490.70" y1="278.50" x2="490.70" y2="282.60" stroke="#4a4a4a" stroke-width="0.9" stroke-opacity="1.0"/>
<line x1="495.70" y1="278.50" x2="495.70" y2="279.70" stroke="#4a4a4a" stroke-width="0.9" stroke-opacity="1.0"/>
<line x1="672.60" y1="278.50" x2="672.60" y2="288.10" stroke="#4a4a4a" stroke-width="0.9" stroke-opacity="1.0"/>
<line x1="500.50" y1="278.50" x2="500.50" y2="279.50" stroke="#4a4a4a" stroke-width="0.9" stroke-opacity="0.85"/>
<line x1="505.60" y1="278.50" x2="505.60" y2="281.00" stroke="#4a4a4a" stroke-width="0.9" stroke-opacity="0.85"/>
<line x1="510.30" y1="278.50" x2="510.30" y2="279.50" stroke="#4a4a4a" stroke-width="0.9" stroke-opacity="0.85"/>
<line x1="514.70" y1="278.50" x2="514.70" y2="280.50" stroke="#4a4a4a" stroke-width="0.9" stroke-opacity="0.85"/>
<line x1="519.80" y1="278.50" x2="519.80" y2="282.00" stroke="#4a4a4a" stroke-width="0.9" stroke-opacity="0.85"/>
<line x1="524.60" y1="278.50" x2="524.60" y2="279.70" stroke="#4a4a4a" stroke-width="0.9" stroke-opacity="0.85"/>
<line x1="529.30" y1="278.50" x2="529.30" y2="279.70" stroke="#4a4a4a" stroke-width="0.9" stroke-opacity="0.85"/>
<line x1="534.40" y1="278.50" x2="534.40" y2="279.50" stroke="#4a4a4a" stroke-width="0.9" stroke-opacity="0.85"/>
<line x1="539.20" y1="278.50" x2="539.20" y2="281.50" stroke="#4a4a4a" stroke-width="0.9" stroke-opacity="0.85"/>
<line x1="544.60" y1="278.50" x2="544.60" y2="279.50" stroke="#4a4a4a" stroke-width="0.9" stroke-opacity="0.85"/>
<line x1="548.60" y1="278.50" x2="548.60" y2="281.50" stroke="#4a4a4a" stroke-width="0.9" stroke-opacity="0.85"/>
<line x1="553.40" y1="278.50" x2="553.40" y2="280.00" stroke="#4a4a4a" stroke-width="0.9" stroke-opacity="0.85"/>
<line x1="558.50" y1="278.50" x2="558.50" y2="279.50" stroke="#4a4a4a" stroke-width="0.9" stroke-opacity="0.85"/>
<line x1="565.80" y1="278.50" x2="565.80" y2="281.00" stroke="#4a4a4a" stroke-width="0.9" stroke-opacity="0.85"/>
<line x1="570.50" y1="278.50" x2="570.50" y2="280.00" stroke="#4a4a4a" stroke-width="0.9" stroke-opacity="0.85"/>
<line x1="577.80" y1="278.50" x2="577.80" y2="280.50" stroke="#4a4a4a" stroke-width="0.9" stroke-opacity="0.85"/>
<line x1="582.60" y1="278.50" x2="582.60" y2="280.00" stroke="#4a4a4a" stroke-width="0.9" stroke-opacity="0.85"/>
<line x1="592.40" y1="278.50" x2="592.40" y2="280.00" stroke="#4a4a4a" stroke-width="0.9" stroke-opacity="0.85"/>
<line x1="597.60" y1="278.50" x2="597.60" y2="280.00" stroke="#4a4a4a" stroke-width="0.9" stroke-opacity="0.85"/>
<line x1="602.30" y1="278.50" x2="602.30" y2="281.00" stroke="#4a4a4a" stroke-width="0.9" stroke-opacity="0.85"/>
<line x1="609.20" y1="278.50" x2="609.20" y2="279.50" stroke="#4a4a4a" stroke-width="0.9" stroke-opacity="0.85"/>
<line x1="611.40" y1="278.50" x2="611.40" y2="279.50" stroke="#4a4a4a" stroke-width="0.9" stroke-opacity="0.85"/>
<line x1="616.50" y1="278.50" x2="616.50" y2="280.50" stroke="#4a4a4a" stroke-width="0.9" stroke-opacity="0.85"/>
<line x1="619.10" y1="278.50" x2="619.10" y2="279.50" stroke="#4a4a4a" stroke-width="0.9" stroke-opacity="0.85"/>
<line x1="623.50" y1="278.50" x2="623.50" y2="279.50" stroke="#4a4a4a" stroke-width="0.9" stroke-opacity="0.85"/>
<line x1="631.50" y1="278.50" x2="631.50" y2="279.50" stroke="#4a4a4a" stroke-width="0.9" stroke-opacity="0.85"/>
<line x1="635.90" y1="278.50" x2="635.90" y2="279.50" stroke="#4a4a4a" stroke-width="0.9" stroke-opacity="0.85"/>
<line x1="643.50" y1="278.50" x2="643.50" y2="279.50" stroke="#4a4a4a" stroke-width="0.9" stroke-opacity="0.85"/>
<line x1="642.60" y1="278.50" x2="642.60" y2="279.50" stroke="#4a4a4a" stroke-width="0.9" stroke-opacity="0.85"/>
<line x1="644.90" y1="278.50" x2="644.90" y2="279.50" stroke="#4a4a4a" stroke-width="0.9" stroke-opacity="0.85"/>
<line x1="647.90" y1="278.50" x2="647.90" y2="279.80" stroke="#4a4a4a" stroke-width="0.9" stroke-opacity="0.85"/>
<line x1="652.80" y1="278.50" x2="652.80" y2="280.00" stroke="#4a4a4a" stroke-width="0.9" stroke-opacity="0.85"/>
<line x1="655.10" y1="278.50" x2="655.10" y2="279.50" stroke="#4a4a4a" stroke-width="0.9" stroke-opacity="0.85"/>
<line x1="660.40" y1="278.50" x2="660.40" y2="280.00" stroke="#4a4a4a" stroke-width="0.9" stroke-opacity="0.85"/>
<line x1="663.00" y1="278.50" x2="663.00" y2="279.50" stroke="#4a4a4a" stroke-width="0.9" stroke-opacity="0.85"/>
<line x1="665.00" y1="278.50" x2="665.00" y2="279.80" stroke="#4a4a4a" stroke-width="0.9" stroke-opacity="0.85"/>
<line x1="669.00" y1="278.50" x2="669.00" y2="279.50" stroke="#4a4a4a" stroke-width="0.9" stroke-opacity="0.85"/>
<line x1="671.00" y1="278.50" x2="671.00" y2="279.50" stroke="#4a4a4a" stroke-width="0.9" stroke-opacity="0.85"/>
<polyline points="430.17,470.54 432.10,467.50 433.70,464.99 435.91,461.51 438.54,457.39 441.36,452.96 444.19,448.52 446.80,444.40 449.25,440.52 451.72,436.61 454.19,432.70 456.63,428.82 459.04,425.01 461.40,421.30 463.78,417.56 466.21,413.74 468.60,409.99 470.87,406.46 472.93,403.28 474.70,400.60 476.12,398.52 477.25,396.94 478.18,395.72 478.97,394.71 479.72,393.79 480.50,392.80 481.29,391.78 482.02,390.84 482.70,389.99 483.35,389.20 483.98,388.47 484.60,387.80 485.21,387.20 485.78,386.68 486.34,386.23 486.89,385.81 487.44,385.41 488.00,385.00 488.57,384.59 489.14,384.18 489.71,383.79 490.29,383.43 490.89,383.10 491.50,382.80 492.14,382.54 492.80,382.33 493.47,382.14 494.16,381.97 494.83,381.83 495.50,381.70 496.14,381.59 496.75,381.50 497.36,381.43 497.99,381.38 498.66,381.34 499.40,381.30 500.23,381.27 501.14,381.24 502.10,381.23 503.06,381.23 503.97,381.25 504.80,381.30 505.50,381.38 506.09,381.50 506.64,381.63 507.21,381.77 507.88,381.90 508.70,382.00 509.73,382.08 510.93,382.17 512.23,382.24 513.53,382.29 514.78,382.31 515.90,382.30 516.87,382.25 517.76,382.18 518.58,382.08 519.38,381.95 520.17,381.79 521.00,381.59 521.81,381.37 522.59,381.14 523.36,380.88 524.17,380.58 525.07,380.20 526.10,379.75 527.32,379.18 528.70,378.50 530.16,377.75 531.64,376.99 533.04,376.25 534.30,375.58 535.33,375.03 536.16,374.57 536.93,374.14 537.75,373.66 538.73,373.08 540.00,372.33 541.60,371.34 543.46,370.17 545.48,368.89 547.58,367.58 549.68,366.34 551.70,365.23 553.69,364.26 555.73,363.38 557.77,362.55 559.77,361.76 561.66,360.99 563.40,360.23 564.97,359.50 566.41,358.82 567.74,358.16 569.01,357.50 570.26,356.81 571.50,356.06 572.69,355.27 573.79,354.48 574.85,353.65 575.95,352.77 577.14,351.83 578.50,350.80 580.03,349.66 581.70,348.42 583.46,347.11 585.28,345.76 587.14,344.42 589.00,343.11 590.91,341.81 592.90,340.48 594.92,339.15 596.93,337.84 598.87,336.59 600.70,335.41 602.39,334.32 603.99,333.30 605.51,332.34 607.01,331.40 608.53,330.47 610.10,329.53 611.60,328.66 612.99,327.91 614.39,327.16 615.93,326.32 617.76,325.28 620.00,323.95 622.80,322.22 626.07,320.16 629.62,317.90 633.26,315.58 636.78,313.33 640.00,311.28 642.90,309.43 645.62,307.69 648.24,306.02 650.80,304.38 653.37,302.73 656.00,301.04 658.88,299.19 661.99,297.19 665.10,295.18 667.99,293.31 670.44,291.74 672.20,290.60" fill="none" stroke="#dadada" stroke-width="5.8" stroke-linejoin="round" stroke-linecap="butt"/>
<line x1="383.00" y1="476.90" x2="683.40" y2="278.00" stroke="#3a3a3a" stroke-width="0.9" stroke-dasharray="0.9 1.75"/>
<polyline points="432.10,467.50 433.70,464.99 435.91,461.51 438.54,457.39 441.36,452.96 444.19,448.52 446.80,444.40 449.25,440.52 451.72,436.61 454.19,432.70 456.63,428.82 459.04,425.01 461.40,421.30 463.78,417.56 466.21,413.74 468.60,409.99 470.87,406.46 472.93,403.28 474.70,400.60 476.12,398.52 477.25,396.94 478.18,395.72 478.97,394.71 479.72,393.79 480.50,392.80 481.29,391.78 482.02,390.84 482.70,389.99 483.35,389.20 483.98,388.47 484.60,387.80 485.21,387.20 485.78,386.68 486.34,386.23 486.89,385.81 487.44,385.41 488.00,385.00 488.57,384.59 489.14,384.18 489.71,383.79 490.29,383.43 490.89,383.10 491.50,382.80 492.14,382.54 492.80,382.33 493.47,382.14 494.16,381.97 494.83,381.83 495.50,381.70 496.14,381.59 496.75,381.50 497.36,381.43 497.99,381.38 498.66,381.34 499.40,381.30 500.23,381.27 501.14,381.24 502.10,381.23 503.06,381.23 503.97,381.25 504.80,381.30 505.50,381.38 506.09,381.50 506.64,381.63 507.21,381.77 507.88,381.90 508.70,382.00 509.73,382.08 510.93,382.17 512.23,382.24 513.53,382.29 514.78,382.31 515.90,382.30 516.87,382.25 517.76,382.18 518.58,382.08 519.38,381.95 520.17,381.79 521.00,381.60 521.81,381.39 522.59,381.17 523.36,380.91 524.17,380.61 525.07,380.25 526.10,379.80 527.32,379.24 528.70,378.57 530.16,377.84 531.64,377.09 533.04,376.36 534.30,375.70 535.33,375.16 536.16,374.71 536.93,374.28 537.75,373.81 538.73,373.24 540.00,372.50 541.60,371.53 543.46,370.37 545.48,369.11 547.58,367.82 549.68,366.59 551.70,365.50 553.69,364.55 555.73,363.68 557.77,362.87 559.77,362.10 561.66,361.35 563.40,360.60 564.97,359.88 566.41,359.21 567.74,358.57 569.01,357.92 570.26,357.24 571.50,356.50 572.69,355.72 573.79,354.94 574.85,354.12 575.95,353.25 577.14,352.32 578.50,351.30 580.03,350.17 581.70,348.94 583.46,347.65 585.28,346.32 587.14,344.99 589.00,343.70 590.91,342.41 592.90,341.10 594.92,339.79 596.93,338.50 598.87,337.26 600.70,336.10 602.39,335.03 603.99,334.02 605.51,333.07 607.01,332.14 608.53,331.23 610.10,330.30 611.60,329.45 612.99,328.70 614.39,327.97 615.93,327.14 617.76,326.12 620.00,324.80 622.80,323.09 626.07,321.06 629.62,318.84 633.26,316.55 636.78,314.33 640.00,312.30 642.90,310.48 645.62,308.76 648.24,307.11 650.80,305.49 653.37,303.87 656.00,302.20 658.88,300.38 661.99,298.40 665.10,296.42 667.99,294.58 670.44,293.02 672.20,291.90" fill="none" stroke="#4a4a4a" stroke-width="0.8" stroke-linejoin="round" stroke-linecap="butt"/>
<text x="392.40" y="299.80" font-size="10.58" text-anchor="start" fill="#1c1c1c" stroke="#1c1c1c" stroke-width="0.25" xml:space="preserve">B= 1000 repetitions, boot</text>
<text x="392.40" y="316.90" font-size="10.58" text-anchor="start" fill="#1c1c1c" stroke="#1c1c1c" stroke-width="0.25" xml:space="preserve">Mean absolute error=0.052  n=252</text>
<line x1="551.20" y1="409.40" x2="561.20" y2="409.40" stroke="#d0d0d0" stroke-width="0.9" stroke-dasharray="2 1"/>
<line x1="551.20" y1="423.50" x2="561.20" y2="423.50" stroke="#555" stroke-width="0.9"/>
<line x1="551.20" y1="437.50" x2="561.20" y2="437.50" stroke="#4a4a4a" stroke-width="0.9" stroke-dasharray="0.9 1.75"/>
<text x="566.00" y="411.40" font-size="10.5" text-anchor="start" fill="#1c1c1c" stroke="#1c1c1c" stroke-width="0.25">Apparent</text>
<text x="566.00" y="425.20" font-size="10.5" text-anchor="start" fill="#1c1c1c" stroke="#1c1c1c" stroke-width="0.25">Bias−corrected</text>
<text x="566.00" y="439.20" font-size="10.5" text-anchor="start" fill="#1c1c1c" stroke="#1c1c1c" stroke-width="0.25">Ideal</text>
</svg>
</body></html>
